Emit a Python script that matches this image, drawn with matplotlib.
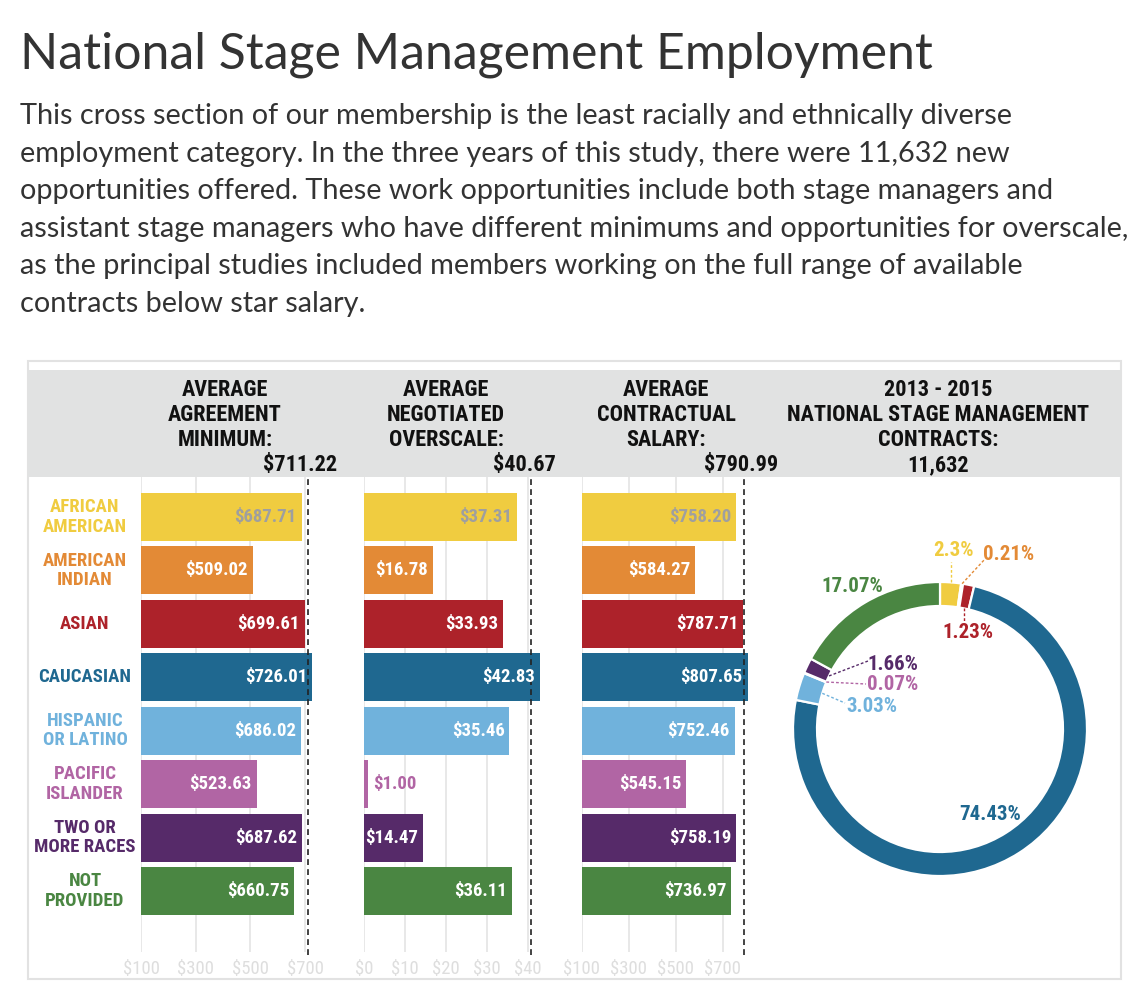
import os
import numpy as np
import matplotlib
matplotlib.use("Agg")
import matplotlib.pyplot as plt
from matplotlib import font_manager as fm
from matplotlib.font_manager import FontProperties
from matplotlib.patches import Rectangle

# ---------------- data ----------------
categories = ["AFRICAN\nAMERICAN", "AMERICAN\nINDIAN", "ASIAN", "CAUCASIAN",
              "HISPANIC\nOR LATINO", "PACIFIC\nISLANDER", "TWO OR\nMORE RACES", "NOT\nPROVIDED"]
agreement_min = [687.71, 509.02, 699.61, 726.01, 686.02, 523.63, 687.62, 660.75]
overscale = [37.31, 16.78, 33.93, 42.83, 35.46, 1.00, 14.47, 36.11]
contract_salary = [758.20, 584.27, 787.71, 807.65, 752.46, 545.15, 758.19, 736.97]
avg_agreement = 711.22
avg_overscale = 40.67
avg_salary = 790.99
contract_share = [2.3, 0.21, 1.23, 74.43, 3.03, 0.07, 1.66, 17.07]
share_labels = ["2.3%", "0.21%", "1.23%", "74.43%", "3.03%", "0.07%", "1.66%", "17.07%"]
total_contracts = "11,632"
ticks_agreement = [100, 300, 500, 700]
ticks_overscale = [0, 10, 20, 30, 40]
ticks_salary = [100, 300, 500, 700]

colors = ["#F0CC40", "#E38A36", "#AD222A", "#1F6890", "#70B2DC",
          "#B165A4", "#562A69", "#4A8642"]
value_colors = ["#9F9F9F"] + ["white"] * 7

title = "National Stage Management Employment"
body_lines = [
    "This cross section of our membership is the least racially and ethnically diverse",
    "employment category. In the three years of this study, there were 11,632 new",
    "opportunities offered. These work opportunities include both stage managers and",
    "assistant stage managers who have different minimums and opportunities for overscale,",
    "as the principal studies included members working on the full range of available",
    "contracts below star salary.",
]

# ---------------- fonts ----------------
W, H, DPI = 1136, 994, 100
all_files = [f.fname for f in fm.fontManager.ttflist] + list(fm.findSystemFonts())


def find_file(names):
    for n in names:
        for f in all_files:
            if os.path.basename(f).lower() == n.lower():
                return f
    return None


COND_BOLD = find_file(["LiberationSansNarrow-Bold.ttf", "RobotoCondensed-Bold.ttf",
                       "DejaVuSansCondensed-Bold.ttf"])
COND_REG = find_file(["LiberationSansNarrow-Regular.ttf", "RobotoCondensed-Regular.ttf",
                      "DejaVuSansCondensed.ttf"])


def cb(size):
    if COND_BOLD:
        return FontProperties(fname=COND_BOLD, size=size)
    return FontProperties(family="DejaVu Sans", weight="bold", stretch="condensed", size=size)


def cr(size):
    if COND_REG:
        return FontProperties(fname=COND_REG, size=size)
    return FontProperties(family="DejaVu Sans", stretch="condensed", size=size)


BODY_FAMILY = ["Lato", "DejaVu Sans"]

fig = plt.figure(figsize=(W / DPI, H / DPI), dpi=DPI)
fig.patch.set_facecolor("white")


def fx(x):
    return x / W


def fy(y):
    return 1 - y / H


def T(x, y, s, **kw):
    return fig.text(fx(x), fy(y), s, **kw)


renderer = fig.canvas.get_renderer()

# ---------------- title & body ----------------
t = T(20, 68, title, family=BODY_FAMILY, fontsize=34, color="#333333", va="baseline", ha="left")
wt = t.get_window_extent(renderer).width
t.set_fontsize(34 * 913 / wt)

probe = T(20, 125, body_lines[3], family=BODY_FAMILY, fontsize=18, color="#333333",
          va="baseline", ha="left")
wb = probe.get_window_extent(renderer).width
probe.remove()
body_size = 18 * 1107 / wb
for i, line in enumerate(body_lines):
    T(20, 124 + 37.6 * i, line, family=BODY_FAMILY, fontsize=body_size, color="#333333",
      va="baseline", ha="left")

# ---------------- frame & header band ----------------
box_l, box_r, box_t, box_b = 28, 1121, 361, 979
fig.patches.append(Rectangle((fx(box_l), fy(box_b)), (box_r - box_l) / W, (box_b - box_t) / H,
                             transform=fig.transFigure, facecolor="none",
                             edgecolor="#E2E2E2", lw=1.5, zorder=0))
band_t, band_b = 370, 477
fig.patches.append(Rectangle((fx(box_l), fy(band_b)), (box_r - box_l) / W, (band_b - band_t) / H,
                             transform=fig.transFigure, facecolor="#E1E2E2",
                             edgecolor="none", zorder=0))

hdr = cb(16)
line_y = [390, 415, 440, 465]


def header_block(cx, lines, value, vx):
    for j, ln in enumerate(lines):
        T(cx, line_y[j], ln, fontproperties=hdr, ha="center", va="center", color="#111111")
    T(vx, line_y[3], value, fontproperties=hdr, ha="right", va="center", color="#111111")


header_block(225, ["AVERAGE", "AGREEMENT", "MINIMUM:"], f"${avg_agreement:,.2f}", 337)
header_block(446, ["AVERAGE", "NEGOTIATED", "OVERSCALE:"], f"${avg_overscale:,.2f}", 556)
header_block(666, ["AVERAGE", "CONTRACTUAL", "SALARY:"], f"${avg_salary:,.2f}", 778)
for j, ln in enumerate(["2013 - 2015", "NATIONAL STAGE MANAGEMENT", "CONTRACTS:", total_contracts]):
    T(938, line_y[j], ln, fontproperties=hdr, ha="center", va="center", color="#111111")

# ---------------- bar panels ----------------
row0, row_step = 517, 53.43
ax_top, ax_bot = 477, 952
n = len(categories)
y_pos = np.arange(n)
ylim = ((ax_bot - row0) / row_step, (ax_top - row0) / row_step)


def panel(left_px, xmin, xmax, scale, values, avg, ticks, fmt):
    width_px = (xmax - xmin) * scale
    ax = fig.add_axes([fx(left_px), fy(ax_bot), width_px / W, (ax_bot - ax_top) / H])
    ax.set_xlim(xmin, xmax)
    ax.set_ylim(*ylim)
    ax.barh(y_pos, values, height=0.9, left=0, color=colors, edgecolor="none", zorder=2)
    ax.set_xticks(ticks)
    ax.set_xticklabels([fmt(v) for v in ticks])
    ax.set_yticks([])
    ax.grid(axis="x", color="#E6E6E6", lw=1.3, zorder=0)
    ax.set_axisbelow(True)
    for s in ax.spines.values():
        s.set_visible(False)
    ax.tick_params(axis="x", length=0, pad=6, colors="#DDDDDD")
    for lab in ax.get_xticklabels():
        lab.set_fontproperties(cr(13.5))
        lab.set_color("#DEDEDE")
    ax.plot([avg, avg], [ylim[0] + 0.05, ylim[1]], color="#222222", lw=1.2,
            ls=(0, (3.5, 2.5)), zorder=3, clip_on=False)
    ax.patch.set_alpha(0)
    return ax


ax1 = panel(141, 100, 770, 0.2735, agreement_min, avg_agreement, ticks_agreement,
            lambda v: f"${v}")
ax2 = panel(364, 0, 46, 4.1, overscale, avg_overscale, ticks_overscale, lambda v: f"${v}")
ax3 = panel(582, 100, 830, 0.2342, contract_salary, avg_salary, ticks_salary,
            lambda v: f"${v}")

valfont = cb(13.5)
for ax, vals in [(ax1, agreement_min), (ax2, overscale), (ax3, contract_salary)]:
    x0, x1 = ax.get_xlim()
    for i, v in enumerate(vals):
        txt = f"${v:,.2f}"
        bar_px = (v - x0) / (x1 - x0) * ax.bbox.width
        if bar_px > 40:
            ax.annotate(txt, (v, i), xytext=(-5, 0), textcoords="offset pixels",
                        ha="right", va="center", fontproperties=valfont,
                        color=value_colors[i], zorder=5)
        else:
            ax.annotate(txt, (v, i), xytext=(5, 0), textcoords="offset pixels",
                        ha="left", va="center", fontproperties=valfont,
                        color=colors[i], zorder=5)

# category labels
catfont = cb(13.5)
for i, c in enumerate(categories):
    T(85, row0 + row_step * i, c, fontproperties=catfont, ha="center", va="center",
      color=colors[i], linespacing=1.1)

# ---------------- donut ----------------
cx, cy, R, S = 940, 729, 147, 175
axd = fig.add_axes([fx(cx - S), fy(cy + S), 2 * S / W, 2 * S / H])
ring = 24 / R
wedges, _ = axd.pie(contract_share, colors=colors, startangle=90, counterclock=False,
                    radius=1.0, wedgeprops=dict(width=ring, edgecolor="white", linewidth=1.6))
axd.set_xlim(-S / R, S / R)
axd.set_ylim(-S / R, S / R)
axd.set_aspect("equal")
axd.axis("off")


def d(px, py):
    return ((px - cx) / R, (cy - py) / R)


mids = [np.deg2rad((w.theta1 + w.theta2) / 2) for w in wedges]

dfont = cb(15)
label_pos = [(953, 551), (1009, 554), (968, 633), (990, 815),
             (872, 706), (893, 685), (893, 664), (852, 586)]
leader_end = [(None, 562), (985, 559), (None, 621), None,
              (845, 703), (866, 684), (868, 661), None]
leader_from = ["out", "out", "in", None, "in", "in", "in", None]

for i, lab in enumerate(share_labels):
    lx, ly = d(*label_pos[i])
    axd.text(lx, ly, lab, fontproperties=dfont, color=colors[i], ha="center", va="center")
    if leader_from[i] is not None:
        r = 1.0 if leader_from[i] == "out" else 1.0 - ring
        sx, sy = r * np.cos(mids[i]), r * np.sin(mids[i])
        ex_px, ey_px = leader_end[i]
        if ex_px is None:
            ex = sx
            ey = d(0, ey_px)[1]
        else:
            ex, ey = d(ex_px, ey_px)
        axd.plot([sx, ex], [sy, ey], color=colors[i], lw=1.0, ls=(0, (2, 1.5)),
                 clip_on=False)

fig.savefig("out.png", dpi=DPI, facecolor="white")
